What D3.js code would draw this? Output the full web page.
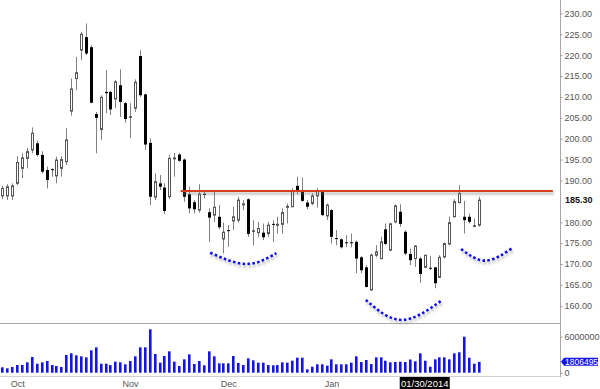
<!DOCTYPE html>
<html>
<head>
<meta charset="utf-8">
<style>
  body { margin: 0; background: #fff; font-family: "Liberation Sans", Arial, sans-serif; }
  svg { display: block; }
  .axis text { fill: #555; font-size: 9px; }
  .axis path { display: none; }
  .axis line { stroke: #999; }
  .wick { stroke: #808080; stroke-width: 1; }
  .up { fill: #fff; stroke: #555; stroke-width: 1; }
  .down { fill: #000; }
  .vol { fill: #1414f0; }
  .frame { stroke: #a8a8a8; stroke-width: 1; }
</style>
</head>
<body>
<script src="https://d3js.org/d3.v7.min.js"></script>
<script>

// daily candles, 26 Sep 2013 .. 14 Feb 2014
var opens  = [186.3,186.3,186.3,189.3,192.9,195.3,197.3,198.9,196.1,192.5,192.7,191.1,192.9,194.5,206.6,214.4,221.2,224.3,221.9,205.9,
              202.2,211.2,211.2,209.5,212.8,208.5,205.3,207.3,219.8,210.6,199.0,186.0,189.3,188.3,186.1,195.2,196.2,195.0,186.7,184.8,
              182.9,186.8,182.4,181.7,181.3,176.0,178.1,180.3,180.5,184.2,185.5,178.0,177.5,177.5,177.3,179.6,179.4,179.5,183.6,183.7,
              188.7,187.5,184.7,184.5,186.3,187.3,181.5,182.9,176.2,175.9,175.2,175.2,175.3,171.6,169.2,163.8,172.1,171.3,178.3,173.3,
              180.1,182.5,177.7,172.4,171.3,171.3,169.2,169.1,169.2,166.8,171.7,174.8,181.3,184.7,181.3,181.3,179.2,179.3];
var highs  = [188.7,189.1,189.3,195.8,196.5,197.8,202.7,199.5,197.0,193.3,192.9,195.7,195.8,202.5,214.4,219.6,225.6,227.6,222.4,206.4,
              210.4,216.4,211.5,214.0,216.6,208.8,208.5,214.2,221.2,210.8,200.1,191.7,191.3,189.3,196.1,196.6,196.6,195.3,188.5,185.3,
              189.1,187.7,183.3,187.7,184.1,179.9,179.3,183.7,186.1,185.3,185.7,180.5,180.1,179.7,180.1,180.5,181.3,183.3,184.5,188.1,
              190.9,190.7,185.3,186.9,188.1,187.5,184.5,183.1,178.1,176.1,176.9,177.3,175.6,171.9,169.7,172.5,174.5,176.5,179.7,179.9,
              184.3,184.3,178.1,173.7,174.5,171.7,172.1,171.9,169.3,172.1,175.1,181.3,185.5,188.9,185.1,182.1,180.9,186.1];
var lows   = [185.5,185.3,185.3,188.9,190.5,192.9,196.5,195.7,191.7,188.1,190.9,189.3,190.9,193.7,205.5,211.6,218.8,220.0,208.5,196.5,
              199.7,206.1,205.7,207.3,205.2,203.8,200.1,206.4,210.0,197.3,184.1,185.3,187.7,182.0,185.5,190.9,194.5,184.9,182.1,182.1,
              182.3,185.7,175.3,180.1,178.3,172.5,174.1,178.1,179.9,182.9,176.5,174.5,176.5,175.7,176.5,175.3,177.3,177.3,179.7,183.6,
              186.7,184.9,183.1,184.1,183.5,181.5,180.5,174.9,174.5,173.7,174.0,174.0,167.8,167.8,164.4,163.6,171.6,171.1,174.5,173.2,
              179.7,178.9,172.1,169.7,169.3,165.5,169.0,168.5,164.2,166.6,171.3,174.5,181.2,184.5,177.3,179.7,178.8,178.9];
var closes = [188.1,188.5,188.7,194.3,195.4,196.9,201.3,196.1,192.1,190.1,192.5,194.9,195.0,199.7,211.9,215.8,225.0,220.4,208.6,205.0,
              209.9,210.9,207.0,213.6,208.8,204.7,205.1,213.5,210.4,198.6,186.1,189.7,188.5,182.7,195.3,195.4,194.7,186.1,183.3,183.1,
              186.7,186.6,181.1,183.6,178.8,177.6,177.9,181.3,185.3,184.4,177.2,177.8,178.5,176.4,179.3,179.4,179.5,182.3,183.8,187.5,
              187.5,185.1,183.7,186.3,187.5,181.7,184.1,176.5,176.0,174.0,175.0,175.1,171.3,168.5,164.5,172.1,172.9,175.3,174.8,179.6,
              183.9,179.6,172.5,170.9,174.3,167.6,172.1,168.9,165.4,171.6,174.9,179.9,184.9,186.9,180.5,180.1,179.0,185.3];
// volume in millions of shares
var volumes = [0.90,0.73,0.95,1.28,1.28,1.73,2.62,1.50,1.73,1.95,1.28,1.12,0.95,2.95,3.23,2.90,2.73,2.56,3.73,4.23,
               1.50,1.50,1.28,1.84,1.73,1.40,1.95,2.73,4.23,4.23,7.23,3.12,1.67,2.78,3.56,1.84,1.12,2.23,3.06,1.45,
               1.95,1.23,3.56,2.73,1.56,1.56,1.56,2.78,1.62,1.28,2.40,2.06,1.67,1.67,1.28,1.23,1.28,1.73,1.67,2.00,
               2.50,2.50,0.56,1.00,1.40,1.40,1.17,2.23,1.40,1.40,1.40,1.67,2.73,1.78,2.12,1.45,2.56,2.56,2.00,1.73,
               1.78,1.84,1.78,2.20,1.90,3.23,2.00,1.00,2.23,2.56,2.56,2.23,3.23,3.40,6.00,2.50,1.50,1.806495];

var holidays = ["2013-11-28", "2013-12-25", "2014-01-01", "2014-01-20"];
var monthLabels = ["Oct", "Nov", "Dec", "Jan"];
var priceTicks = [160, 165, 170, 175, 180, 190, 195, 200, 205, 210, 215, 220, 225, 230];
var volumeTicks = [0, 6];
var lastPrice = 185.30;
var lastVolume = 1806495;
var markedDate = "01/30/2014";

// resistance line and the three dotted "cup" marks, in (bar index, price)
var resistance = {from: 36.3, to: 112.1, price: 187.5};
var cups = [
  [[42.3, 172.7], [49.7, 170.0], [55.8, 172.6]],
  [[74.0, 161.4], [81.3, 156.6], [89.6, 161.4]],
  [[93.4, 173.6], [98.3, 170.8], [103.7, 173.7]]
];

var fmt = d3.timeFormat("%Y-%m-%d");
var dates = d3.timeDay.range(new Date(2013, 8, 26), new Date(2014, 1, 15))
  .filter(function(d) { return d.getDay() > 0 && d.getDay() < 6 && holidays.indexOf(fmt(d)) < 0; });

var bars = dates.map(function(d, i) {
  return {i: i, date: d, o: opens[i], h: highs[i], l: lows[i], c: closes[i], v: volumes[i]};
});

var W = 600, H = 389, plotW = 560;

var svg = d3.select("body").append("svg")
  .attr("width", W)
  .attr("height", H);

var defs = svg.append("defs");
defs.append("filter").attr("id", "shadow")
  .attr("filterUnits", "userSpaceOnUse")
  .attr("x", 0).attr("y", 0).attr("width", W).attr("height", H)
  .append("feDropShadow")
  .attr("dx", 1).attr("dy", 2.5).attr("stdDeviation", 1)
  .attr("flood-color", "#777").attr("flood-opacity", 0.55);

var x = d3.scaleLinear().domain([-0.5, 113.55]).range([0, plotW]);
var y = d3.scaleLinear().domain([155.8, 233.2]).range([323.3, 0]);
var yv = d3.scaleLinear().domain([0, 6]).range([372.7, 336.7]);

function px(i) { return Math.round(x(i)); }

// frame
svg.append("line").attr("class", "frame")
  .attr("x1", 0).attr("x2", plotW).attr("y1", 323.5).attr("y2", 323.5);
svg.append("line").attr("class", "frame")
  .attr("x1", 0).attr("x2", plotW).attr("y1", 376.5).attr("y2", 376.5).style("stroke", "#d0d0d0");
svg.append("line").attr("class", "frame")
  .attr("x1", plotW + 0.5).attr("x2", plotW + 0.5).attr("y1", 0).attr("y2", 377);

// price axis
svg.append("g")
  .attr("class", "axis")
  .attr("transform", "translate(" + (plotW + 0.5) + ",0)")
  .call(d3.axisRight(y).tickValues(priceTicks).tickSize(2).tickPadding(2).tickFormat(d3.format(".2f")));

svg.append("text")
  .attr("x", plotW + 5)
  .attr("y", y(lastPrice))
  .attr("dy", "0.35em")
  .style("font-size", "9px")
  .style("font-weight", "bold")
  .style("fill", "#111")
  .text(lastPrice.toFixed(2));

// volume axis
svg.append("g")
  .attr("class", "axis")
  .attr("transform", "translate(" + (plotW + 0.5) + ",0)")
  .call(d3.axisRight(yv).tickValues(volumeTicks).tickSize(2).tickPadding(2)
    .tickFormat(function(d) { return d3.format("d")(d * 1e6); }));

// last volume flag
var lvY = yv(lastVolume / 1e6);
svg.append("path")
  .attr("d", "M" + (plotW + 1) + "," + lvY + "L" + (plotW + 4) + "," + (lvY - 4) + "H598V" + (lvY + 4) + "H" + (plotW + 4) + "Z")
  .style("fill", "#1414f0");
svg.append("text")
  .attr("x", plotW + 5)
  .attr("y", lvY)
  .attr("dy", "0.36em")
  .style("font-size", "8.5px")
  .style("fill", "#fff")
  .text(lastVolume);

// month axis
var monthStarts = bars.filter(function(b, i) {
  return i > 0 && b.date.getMonth() != bars[i - 1].date.getMonth() &&
    monthLabels.indexOf(d3.timeFormat("%b")(b.date)) >= 0;
}).map(function(b) { return b.i; });

svg.append("g")
  .attr("class", "axis")
  .attr("transform", "translate(0,377)")
  .call(d3.axisBottom(x).tickValues(monthStarts).tickSize(0).tickPadding(4)
    .tickFormat(function(i) { return d3.timeFormat("%b")(dates[i]); }));

// crosshair date flag
var markIdx = bars.findIndex(function(b) { return d3.timeFormat("%m/%d/%Y")(b.date) == markedDate; });
svg.append("rect")
  .attr("x", x(markIdx) - 25).attr("y", 377)
  .attr("width", 50).attr("height", 12)
  .style("fill", "#000");
svg.append("text")
  .attr("x", x(markIdx)).attr("y", 386.5)
  .attr("text-anchor", "middle")
  .style("font-size", "9.5px")
  .style("fill", "#fff")
  .text(markedDate);

// volume bars
svg.append("g").selectAll("rect")
  .data(bars)
  .enter().append("rect")
  .attr("class", "vol")
  .attr("x", function(d) { return px(d.i) - 1; })
  .attr("y", function(d) { return yv(d.v); })
  .attr("width", 2.6)
  .attr("height", function(d) { return yv(0) - yv(d.v); });

// candles
var candle = svg.append("g").selectAll("g")
  .data(bars)
  .enter().append("g");

candle.append("line")
  .attr("class", "wick")
  .attr("x1", function(d) { return px(d.i) + 0.5; })
  .attr("x2", function(d) { return px(d.i) + 0.5; })
  .attr("y1", function(d) { return y(d.h); })
  .attr("y2", function(d) { return y(d.l); });

candle.append("rect")
  .attr("class", function(d) { return d.c >= d.o ? "up" : "down"; })
  .attr("x", function(d) { return d.c >= d.o ? px(d.i) - 0.5 : px(d.i) - 1; })
  .attr("width", function(d) { return d.c >= d.o ? 2 : 3; })
  .attr("y", function(d) { return y(Math.max(d.o, d.c)); })
  .attr("height", function(d) { return Math.max(1, Math.abs(y(d.o) - y(d.c))); });

// resistance line
svg.append("line")
  .attr("x1", x(resistance.from)).attr("x2", x(resistance.to))
  .attr("y1", y(resistance.price)).attr("y2", y(resistance.price))
  .style("stroke", "#d2411f")
  .style("stroke-width", 2)
  .attr("filter", "url(#shadow)");

// dotted cups
var cupLine = d3.line()
  .x(function(d) { return x(d[0]); })
  .y(function(d) { return y(d[1]); })
  .curve(d3.curveNatural);

svg.append("g").selectAll("path")
  .data(cups)
  .enter().append("path")
  .attr("d", cupLine)
  .style("fill", "none")
  .style("stroke", "#1010ee")
  .style("stroke-width", 2.6)
  .style("stroke-dasharray", "2.6,2.3")
  .attr("filter", "url(#shadow)");

</script>
</body>
</html>
